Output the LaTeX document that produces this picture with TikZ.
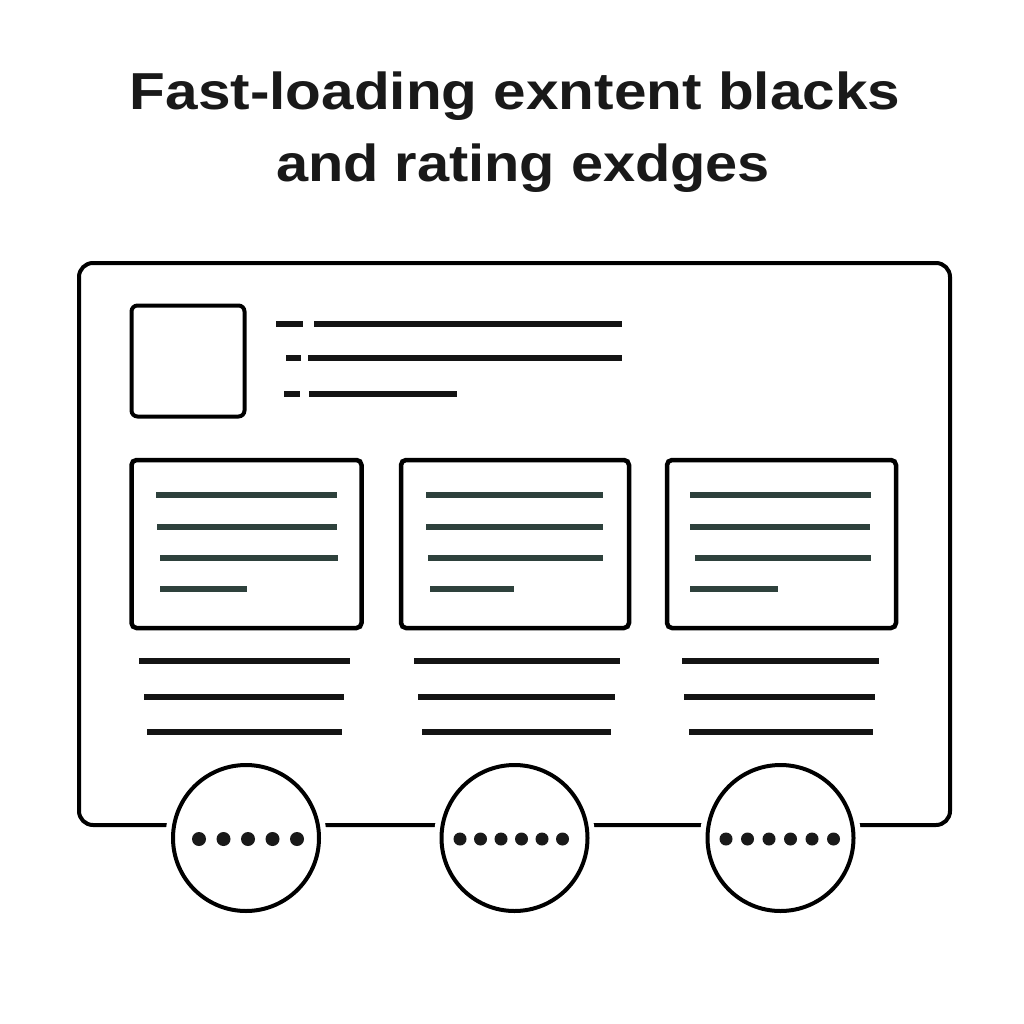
\documentclass[tikz,border=0pt]{standalone}
\usepackage{graphicx}
\usepackage{fontspec}
\setmainfont{Liberation Sans}
\begin{document}
\begin{tikzpicture}[x=1pt,y=-1pt,
  title/.style={font=\fontsize{52}{60}\selectfont\bfseries, anchor=base, inner sep=0, text=black!90},
  frame/.style={draw, line width=4, rounded corners=14, inner sep=0, outer sep=0},
  thumb/.style={draw, line width=4, rounded corners=6, inner sep=0, outer sep=0},
  card/.style={draw, line width=4.5, rounded corners=5, inner sep=0, outer sep=0},
  badge/.style={circle, draw, line width=4, fill=white, minimum size=146, inner sep=0, outer sep=0,
    preaction={draw=white, line width=15}},
  textline/.style={line width=5.5, draw=black!92},
  cardline/.style={line width=6, draw=cardgreen},
  dot/.style={fill=black!90}
]
\definecolor{cardgreen}{HTML}{2E413C}
\useasboundingbox[fill=white] (0,0) rectangle (1024,1024);

% title
\node[title] (t1) at (515,110) {\scalebox{1.125}[1]{Fast-loading exntent blacks}};
\node[title] (t2) at (523,182) {\scalebox{1.11}[1]{and rating exdges}};

% main frame
\node[frame, minimum width=871, minimum height=562] (frame) at (514.5,544) {};

% thumbnail
\node[thumb, minimum width=113, minimum height=111] (thumb) at (188,361) {};

% header text lines
\draw[textline] (276,324) -- (303,324);
\draw[textline] (314,324) -- (622,324);
\draw[textline] (286,358) -- (301,358);
\draw[textline] (308,358) -- (622,358);
\draw[textline] (284,394) -- (300,394);
\draw[textline] (309,394) -- (457,394);

% cards
\node[card, minimum width=230, minimum height=168] (card1) at (246.5,544) {};
\node[card, minimum width=228, minimum height=168] (card2) at (515,544) {};
\node[card, minimum width=229, minimum height=168] (card3) at (781.5,544) {};

% card 1 lines
\draw[cardline] (156,495) -- (337,495);
\draw[cardline] (157,527) -- (337,527);
\draw[cardline] (160,558) -- (338,558);
\draw[cardline] (160,589) -- (247,589);
% card 2 lines
\draw[cardline] (426,495) -- (603,495);
\draw[cardline] (426,527) -- (603,527);
\draw[cardline] (428,558) -- (603,558);
\draw[cardline] (430,589) -- (514,589);
% card 3 lines
\draw[cardline] (690,495) -- (871,495);
\draw[cardline] (690,527) -- (870,527);
\draw[cardline] (695,558) -- (871,558);
\draw[cardline] (690,589) -- (778,589);

% lines below cards
\draw[textline] (139,661) -- (350,661);
\draw[textline] (144,697) -- (344,697);
\draw[textline] (147,732) -- (342,732);
\draw[textline] (414,661) -- (620,661);
\draw[textline] (418,697) -- (615,697);
\draw[textline] (422,732) -- (611,732);
\draw[textline] (682,661) -- (879,661);
\draw[textline] (684,697) -- (875,697);
\draw[textline] (689,732) -- (873,732);

% badges
\node[badge] (b1) at (246,838) {};
\node[badge] (b2) at (514.5,838) {};
\node[badge] (b3) at (780.5,838) {};

% dots
\foreach \x in {199,223.5,248,272.5,297} \fill[dot] (\x,839) circle[radius=7];
\foreach \x in {460,480.5,501,521.5,542,562.5} \fill[dot] (\x,839) circle[radius=6.5];
\foreach \x in {726,747.5,769,790.5,812,833.5} \fill[dot] (\x,839) circle[radius=6.5];
\end{tikzpicture}
\end{document}
